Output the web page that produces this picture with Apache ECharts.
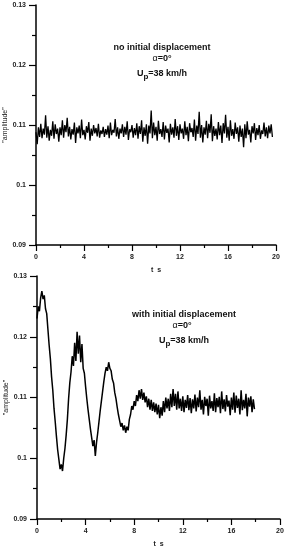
<!DOCTYPE html>
<html>
<head>
<meta charset="utf-8">
<script src="https://cdn.jsdelivr.net/npm/echarts@6/dist/echarts.min.js"></script>
<style>
html,body{margin:0;padding:0;background:#fff;}
#chart{width:288px;height:550px;}
</style>
</head>
<body>
<div id="chart"></div>
<script>
// ---- data ----
var timeStep = 0.1;
var yTicks = ['0.09', '0.1', '0.11', '0.12', '0.13'];
var xTicks = ['0', '4', '8', '12', '16', '20'];

// no initial displacement (t = 0 ... 19.7 s)
var ampNoDisp = [
0.1088,0.1068,0.1096,0.1080,0.1102,0.1078,0.1094,0.1084,0.1116,0.1079,
0.1098,0.1074,0.1092,0.1082,0.1106,0.1077,0.1101,0.1085,0.1094,0.1072,
0.1096,0.1083,0.1108,0.1079,0.1100,0.1088,0.1112,0.1081,0.1097,0.1076,
0.1093,0.1084,0.1104,0.1070,0.1096,0.1086,0.1099,0.1078,0.1109,0.1083,
0.1092,0.1076,0.1098,0.1087,0.1105,0.1074,0.1094,0.1082,0.1100,0.1086,
0.1095,0.1081,0.1102,0.1079,0.1091,0.1085,0.1097,0.1080,0.1093,0.1084,
0.1099,0.1078,0.1104,0.1083,0.1092,0.1087,0.1110,0.1081,0.1096,0.1077,
0.1094,0.1086,0.1101,0.1080,0.1097,0.1084,0.1106,0.1075,0.1093,0.1088,
0.1100,0.1079,0.1095,0.1083,0.1103,0.1077,0.1098,0.1085,0.1108,0.1072,
0.1096,0.1082,0.1101,0.1069,0.1099,0.1086,0.1124,0.1078,0.1104,0.1083,
0.1097,0.1074,0.1107,0.1085,0.1093,0.1080,0.1105,0.1076,0.1099,0.1087,
0.1094,0.1071,0.1102,0.1084,0.1096,0.1079,0.1110,0.1082,0.1098,0.1075,
0.1101,0.1086,0.1094,0.1077,0.1106,0.1083,0.1097,0.1073,0.1103,0.1088,
0.1095,0.1080,0.1109,0.1074,0.1099,0.1085,0.1122,0.1079,0.1100,0.1071,
0.1096,0.1084,0.1107,0.1078,0.1102,0.1087,0.1118,0.1073,0.1098,0.1082,
0.1094,0.1076,0.1105,0.1083,0.1099,0.1070,0.1103,0.1086,0.1117,0.1079,
0.1097,0.1074,0.1108,0.1082,0.1093,0.1077,0.1104,0.1085,0.1096,0.1072,
0.1099,0.1080,0.1094,0.1063,0.1101,0.1078,0.1106,0.1084,0.1092,0.1071,
0.1098,0.1086,0.1103,0.1075,0.1095,0.1083,0.1100,0.1077,0.1091,0.1085,
0.1104,0.1081,0.1096,0.1078,0.1099,0.1086,0.1101,0.1080
];

// with initial displacement (t = 0 ... 17.9 s)
var ampWithDisp = [
0.1230,0.1250,0.1242,0.1264,0.1275,0.1262,0.1268,0.1246,0.1238,0.1212,
0.1186,0.1164,0.1134,0.1112,0.1082,0.1060,0.1036,0.1014,0.0998,0.0982,
0.0990,0.0979,0.1000,0.1016,0.1038,0.1064,0.1098,0.1124,0.1142,0.1168,
0.1152,0.1190,0.1160,0.1208,0.1172,0.1202,0.1158,0.1188,0.1148,0.1140,
0.1118,0.1098,0.1080,0.1064,0.1048,0.1034,0.1020,0.1030,0.1004,0.1026,
0.1042,0.1060,0.1078,0.1094,0.1110,0.1126,0.1140,0.1150,0.1144,0.1158,
0.1148,0.1144,0.1130,0.1124,0.1108,0.1098,0.1084,0.1072,0.1062,0.1052,
0.1058,0.1046,0.1054,0.1042,0.1052,0.1046,0.1064,0.1072,0.1086,0.1080,
0.1094,0.1086,0.1104,0.1094,0.1112,0.1098,0.1114,0.1096,0.1108,0.1092,
0.1102,0.1084,0.1098,0.1080,0.1096,0.1078,0.1092,0.1076,0.1090,0.1072,
0.1088,0.1066,0.1084,0.1070,0.1094,0.1076,0.1100,0.1082,0.1098,0.1078,
0.1106,0.1084,0.1114,0.1086,0.1106,0.1080,0.1110,0.1082,0.1098,0.1078,
0.1102,0.1076,0.1096,0.1083,0.1104,0.1079,0.1099,0.1074,0.1097,0.1082,
0.1105,0.1077,0.1100,0.1084,0.1112,0.1080,0.1096,0.1072,0.1101,0.1086,
0.1098,0.1070,0.1103,0.1082,0.1094,0.1078,0.1107,0.1076,0.1099,0.1084,
0.1101,0.1074,0.1110,0.1081,0.1097,0.1077,0.1104,0.1085,0.1095,0.1071,
0.1100,0.1080,0.1108,0.1075,0.1103,0.1083,0.1098,0.1072,0.1112,0.1079,
0.1096,0.1082,0.1106,0.1069,0.1100,0.1085,0.1102,0.1076,0.1097,0.1081
];

var yAxisName = '"amplitude"';
var xAxisName = 't  s';
var titleTop = 'no initial displacement';
var titleBottom = 'with initial displacement';
var alphaText = '0°';
var speedText = '=38 km/h';

// ---- build ----
function toPairs(arr) {
  return arr.map(function (v, i) { return [+(i * timeStep).toFixed(2), v]; });
}
var FONT = 'Liberation Sans, Arial, sans-serif';
var xMin = +xTicks[0], xMax = +xTicks[xTicks.length - 1];
var xInt = +xTicks[1] - +xTicks[0];
var yMin = +yTicks[0], yMax = +yTicks[yTicks.length - 1];
var yInt = +(+yTicks[1] - +yTicks[0]).toFixed(4);

function xAxis(gi) {
  return {
    type: 'value', gridIndex: gi, min: xMin, max: xMax, interval: xInt,
    name: xAxisName, nameLocation: 'middle', nameGap: 22, nameMoveOverlap: false,
    nameTextStyle: { fontFamily: FONT, fontSize: 7, fontWeight: 'bold', color: '#222' },
    axisLine: { show: true, onZero: false, lineStyle: { color: '#000', width: 1.5 } },
    axisTick: { show: true, inside: false, length: 6, lineStyle: { color: '#000', width: 1.2 } },
    minorTick: { show: true, splitNumber: 2, length: 3, lineStyle: { color: '#000', width: 1.2 } },
    axisLabel: { fontFamily: FONT, fontSize: 7, fontWeight: 'bold', color: '#222', margin: 9 },
    splitLine: { show: false }
  };
}
function yAxis(gi) {
  return {
    type: 'value', gridIndex: gi, min: yMin, max: yMax, interval: yInt,
    name: yAxisName, nameLocation: 'middle', nameGap: 27, nameRotate: 90, nameMoveOverlap: false,
    nameTextStyle: { fontFamily: FONT, fontSize: 7, color: '#222' },
    axisLine: { show: true, onZero: false, lineStyle: { color: '#000', width: 1.5 } },
    axisTick: { show: true, inside: false, length: 7, lineStyle: { color: '#000', width: 1.2 } },
    minorTick: { show: true, splitNumber: 2, length: 4, lineStyle: { color: '#000', width: 1.2 } },
    axisLabel: {
      fontFamily: FONT, fontSize: 7, fontWeight: 'bold', color: '#222', margin: 10,
      formatter: function (v) { return String(+v.toFixed(4)); }
    },
    splitLine: { show: false }
  };
}
function lineSeries(gi, arr, w) {
  return {
    type: 'line', xAxisIndex: gi, yAxisIndex: gi, data: toPairs(arr),
    showSymbol: false, symbol: 'none', animation: false,
    lineStyle: { color: '#000', width: w }
  };
}
function labelBlock(cx, y, title, dxA, dxU) {
  var bold = { fontFamily: FONT, fontSize: 9, fontWeight: 'bold', fill: '#111' };
  return [
    { type: 'text', x: cx, y: y, style: Object.assign({ text: title, align: 'center', verticalAlign: 'middle' }, bold) },
    { type: 'text', x: cx + dxA, y: y + 11, style: {
        text: '{a|α}{b|=' + alphaText + '}', align: 'center', verticalAlign: 'middle',
        rich: { a: { fontFamily: FONT, fontSize: 9, fill: '#111' },
                b: { fontFamily: FONT, fontSize: 9, fontWeight: 'bold', fill: '#111' } } } },
    { type: 'text', x: cx + dxU, y: y + 21, style: {
        text: '{a|U}{s|p}{a|' + speedText + '}', align: 'center', verticalAlign: 'top',
        rich: { a: { fontFamily: FONT, fontSize: 9, fontWeight: 'bold', fill: '#111', height: 10, verticalAlign: 'top' },
                s: { fontFamily: FONT, fontSize: 8, fontWeight: 'bold', fill: '#111', padding: [3, 0, 0, 0], height: 10, verticalAlign: 'top' } } } }
  ];
}

var chart = echarts.init(document.getElementById('chart'), null, { renderer: 'canvas' });
chart.setOption({
  backgroundColor: '#fff',
  animation: false,
  grid: [
    { left: 36, top: 5, width: 240, height: 240, containLabel: false, outerBoundsMode: 'none' },
    { left: 37, top: 276, width: 243, height: 243, containLabel: false, outerBoundsMode: 'none' }
  ],
  xAxis: [xAxis(0), xAxis(1)],
  yAxis: [yAxis(0), yAxis(1)],
  series: [lineSeries(0, ampNoDisp, 1.3), lineSeries(1, ampWithDisp, 1.5)],
  graphic: [].concat(labelBlock(162, 48, titleTop, 0, 0), labelBlock(184, 315, titleBottom, -2, 0))
});
</script>
</body>
</html>
